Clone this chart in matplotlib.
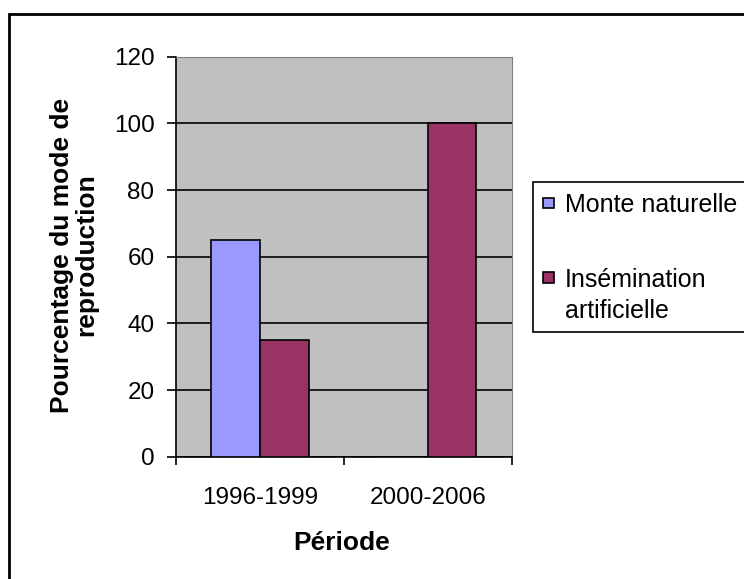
import matplotlib
matplotlib.use("Agg")
from matplotlib import pyplot as plt
from matplotlib.patches import Rectangle

# Données
periodes = ["1996-1999", "2000-2006"]
monte_naturelle = [65, 0]
insemination = [35, 100]
series_noms = ["Monte naturelle", "Insémination"]
suite_nom = "artificielle"   # 2e ligne de la légende
couleurs = ["#9999FF", "#993366"]

plt.rcParams['font.family'] = ['Liberation Sans', 'DejaVu Sans']

W, H = 744, 579
fig = plt.figure(figsize=(W / 100, H / 100), dpi=100)

# Zone de tracé (style Excel)
ax = fig.add_axes([176 / W, 1 - 456.7 / H, 335.7 / W, 400 / H])
ax.set_facecolor("#C0C0C0")

larg = 0.29
pos = [i + 0.5 for i in range(len(periodes))]
b1 = ax.bar([p - larg / 2 for p in pos], monte_naturelle, width=larg,
            color=couleurs[0], edgecolor="black", linewidth=1.2, zorder=3)
b2 = ax.bar([p + larg / 2 for p in pos], insemination, width=larg,
            color=couleurs[1], edgecolor="black", linewidth=1.2, zorder=3)

ax.set_xlim(0, 2)
ax.set_ylim(0, 120)
ax.set_yticks(range(0, 121, 20))
ax.yaxis.grid(True, color="black", linewidth=1.2, zorder=1)
ax.set_axisbelow(True)

# graduations de catégories aux bords, étiquettes au centre
ax.set_xticks([0, 1, 2])
ax.set_xticklabels([])
ax.set_xticks(pos, minor=True)
ax.set_xticklabels(periodes, minor=True)
ax.tick_params(axis="x", which="minor", length=0, pad=22, labelsize=17.5)
ax.tick_params(axis="x", which="major", length=6, width=1.2, direction="out")
ax.tick_params(axis="y", length=6.5, width=1.2, direction="out",
               labelsize=17.5, pad=9)

ax.spines["left"].set_color("black")
ax.spines["left"].set_linewidth(1.2)
ax.spines["bottom"].set_color("black")
ax.spines["bottom"].set_linewidth(1.2)
ax.spines["top"].set_color("#808080")
ax.spines["right"].set_color("#808080")

fig.text(74 / W, 1 - 255 / H, "Pourcentage du mode de\nreproduction",
         rotation=90, ha="center", va="center", fontsize=19,
         fontweight="bold", linespacing=1.0)
fig.text(342 / W, 1 - 543 / H, "Période", ha="center", va="center",
         fontsize=19, fontweight="bold")

# légende : cadre dessiné à part (il déborde à droite comme dans l'original)
fig.patches.append(Rectangle((533 / W, 1 - 332 / H), 0.5, 150 / H,
                             transform=fig.transFigure, facecolor="white",
                             edgecolor="black", linewidth=1.2, zorder=2))
leg = fig.legend([b1, b2], series_noms, loc="upper left",
                 bbox_to_anchor=(533 / W, 1 - 183 / H), fontsize=18,
                 frameon=False, handlelength=0.42, handleheight=0.27,
                 handletextpad=0.45, labelspacing=2.03, borderpad=0.4,
                 borderaxespad=0)
leg.set_zorder(3)
for h in leg.legend_handles:
    h.set_linewidth(1.2)

fig.canvas.draw()
bb = leg.get_texts()[1].get_window_extent()
fig.text(bb.x0 / W, (bb.y0 - 31) / H, suite_nom, ha="left", va="bottom",
         fontsize=18, zorder=4)

# cadre du graphique
fig.patches.append(Rectangle((9 / W, -0.1), 1.2, 1 - 14 / H + 0.1,
                             transform=fig.transFigure, fill=False,
                             edgecolor="black", linewidth=2))

fig.savefig("out.png", dpi=100)
